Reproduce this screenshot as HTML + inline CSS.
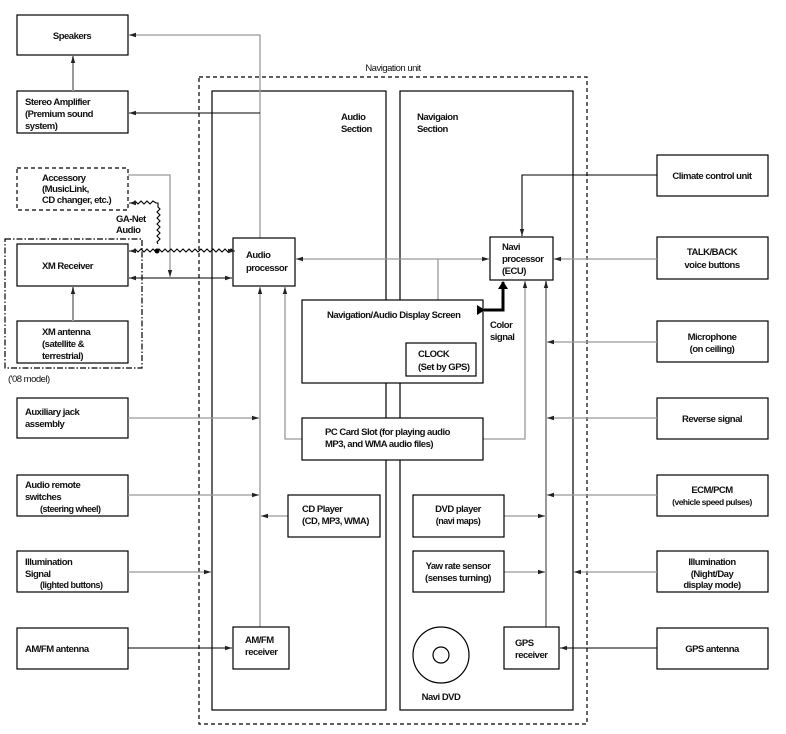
<!DOCTYPE html>
<html><head><meta charset="utf-8"><style>
html,body{margin:0;padding:0;background:#fff;width:786px;height:734px;overflow:hidden}
svg text{font-family:"Liberation Sans",sans-serif;font-size:9.5px;fill:#111;font-weight:bold;letter-spacing:-0.5px}
</style></head><body>
<svg width="786" height="734" xmlns="http://www.w3.org/2000/svg">
<defs>
<marker id="a" markerWidth="8" markerHeight="6" refX="7" refY="3" orient="auto" markerUnits="userSpaceOnUse"><path d="M0,0.8 L7,3 L0,5.2z" fill="#222"/></marker>
<marker id="s" markerWidth="8" markerHeight="6" refX="1" refY="3" orient="auto" markerUnits="userSpaceOnUse"><path d="M8,0.8 L1,3 L8,5.2z" fill="#222"/></marker>
<marker id="t" markerWidth="10" markerHeight="10" refX="7" refY="5" orient="auto" markerUnits="userSpaceOnUse"><path d="M0,0 L8,5 L0,10z" fill="#000"/></marker>
</defs>
<g fill="none" stroke="#000" stroke-width="1.2">
<rect x="199" y="77" width="388" height="647" stroke-dasharray="4,3"/>
<rect x="212" y="91" width="174" height="619"/>
<rect x="400" y="91" width="173" height="619"/>
<rect x="17" y="15" width="111" height="40"/>
<rect x="17" y="91" width="111" height="42"/>
<rect x="17" y="168" width="111" height="42" stroke-dasharray="4,3"/>
<rect x="5" y="239" width="137" height="129" stroke-dasharray="6,2,1.5,2"/>
<rect x="17" y="244" width="111" height="42"/>
<rect x="17" y="321" width="111" height="42"/>
<rect x="17" y="398" width="111" height="40"/>
<rect x="17" y="475" width="111" height="41"/>
<rect x="17" y="551" width="111" height="41"/>
<rect x="17" y="628" width="111" height="41"/>
<rect x="657" y="155" width="111" height="41"/>
<rect x="657" y="237" width="111" height="42"/>
<rect x="657" y="321" width="111" height="41"/>
<rect x="657" y="398" width="111" height="41"/>
<rect x="657" y="475" width="111" height="41"/>
<rect x="657" y="551" width="111" height="41"/>
<rect x="657" y="628" width="111" height="41"/>
</g>
<g fill="none" stroke="#999" stroke-width="1.3">
<polyline points="260,238 260,35 129,35" marker-end="url(#a)"/>
<line x1="73" y1="91" x2="73" y2="56" stroke-width="2" marker-end="url(#a)"/>
<line x1="73" y1="321" x2="73" y2="287" stroke-width="2" marker-end="url(#a)"/>
<polyline points="128,175 170,175 170,277" marker-end="url(#a)"/>
<line x1="296" y1="259" x2="489" y2="259" marker-start="url(#s)" marker-end="url(#a)"/>
<line x1="438" y1="259" x2="438" y2="300"/>
<line x1="260" y1="627" x2="260" y2="287" marker-end="url(#a)"/>
<polyline points="302,439 285,439 285,287" marker-end="url(#a)"/>
<polyline points="483,439 525,439 525,281" marker-end="url(#a)"/>
<line x1="546" y1="627" x2="546" y2="281" stroke-width="2" marker-end="url(#a)"/>
<line x1="657" y1="259" x2="554" y2="259" marker-end="url(#a)"/>
<line x1="657" y1="342" x2="547" y2="342" marker-end="url(#a)"/>
<line x1="657" y1="418" x2="547" y2="418" marker-end="url(#a)"/>
<line x1="657" y1="495" x2="547" y2="495" marker-end="url(#a)"/>
<line x1="657" y1="572" x2="574" y2="572" marker-end="url(#a)"/>
<line x1="504" y1="516" x2="545" y2="516" marker-end="url(#a)"/>
<line x1="504" y1="572" x2="545" y2="572" marker-end="url(#a)"/>
<line x1="128" y1="418" x2="259" y2="418" marker-end="url(#a)"/>
<line x1="128" y1="495" x2="259" y2="495" marker-end="url(#a)"/>
<line x1="288" y1="516" x2="261" y2="516" marker-end="url(#a)"/>
<line x1="128" y1="572" x2="211" y2="572" marker-end="url(#a)"/>
</g>
<g fill="#fff" stroke="#000" stroke-width="1.2">
<rect x="233" y="238" width="62" height="48"/>
<rect x="490" y="237" width="63" height="43"/>
<rect x="302" y="300" width="181" height="83"/>
<rect x="406" y="343" width="70" height="33"/>
<rect x="302" y="418" width="181" height="42"/>
<rect x="288" y="495" width="92" height="42"/>
<rect x="233" y="627" width="56" height="42"/>
<rect x="413" y="495" width="91" height="42"/>
<rect x="413" y="551" width="91" height="41"/>
<rect x="504" y="627" width="55" height="42"/>
<circle cx="441" cy="655" r="28"/>
<circle cx="441" cy="655" r="8"/>
</g>
<g fill="none" stroke="#000" stroke-width="1.1">
<line x1="260" y1="113" x2="129" y2="113" marker-end="url(#a)"/>
<line x1="129" y1="278" x2="232" y2="278" marker-start="url(#s)" marker-end="url(#a)"/>
<polyline points="657,175 522,175 522,236" marker-end="url(#a)"/>
<line x1="657" y1="648" x2="560" y2="648" marker-end="url(#a)"/>
<line x1="128" y1="648" x2="232" y2="648" marker-end="url(#a)"/>
<path d="M129,203 l4,0 l2,-2 l3,3 l3,-3 l3,3 l3,-3 l3,3 l3,-3 l3,2 l2,0 l0,4 l2,2 l-3,3 l3,3 l-3,3 l3,3 l-3,3 l3,3 l-3,3 l3,3 l-3,3 l3,3 l-3,3 l1,2" marker-start="url(#s)"/>
<path d="M129,251 l4,0 l2,-2 l3,3 l3,-3 l3,3 l3,-3 l3,3 l3,-3 l3,3 l3,-3 l3,3 l3,-3 l3,3 l3,-3 l3,3 l3,-3 l3,3 l3,-3 l3,3 l3,-3 l3,3 l3,-3 l3,3 l3,-3 l3,3 l3,-3 l3,3 l3,-3 l3,3 l3,-3 l3,3 l3,-3 l3,3 l3,-3 l2,2 l2,0" marker-start="url(#s)" marker-end="url(#a)"/>
<polyline points="484,310 503,310 503,282" stroke-width="3" marker-start="url(#t)" marker-end="url(#t)"/>
</g>
<circle cx="157" cy="251" r="2.5" fill="#000"/>
<text x="72" y="39" text-anchor="middle">Speakers</text>
<text x="25" y="105">Stereo Amplifier</text><text x="25" y="117">(Premium sound</text><text x="25" y="129">system)</text>
<text x="42" y="181">Accessory</text><text x="42" y="192">(MusicLink,</text><text x="42" y="203">CD changer, etc.)</text>
<text x="116" y="222">GA-Net</text><text x="116" y="233">Audio</text>
<text x="42" y="269">XM Receiver</text>
<text x="42" y="335">XM antenna</text><text x="42" y="347">(satellite &amp;</text><text x="42" y="359">terrestrial)</text>
<text x="8" y="382" style="font-weight:normal">('08 model)</text>
<text x="25" y="415">Auxiliary jack</text><text x="25" y="427">assembly</text>
<text x="25" y="488">Audio remote</text><text x="25" y="500">switches</text><text x="40" y="512" style="font-size:9px">(steering wheel)</text>
<text x="25" y="565">Illumination</text><text x="25" y="577">Signal</text><text x="40" y="588" style="font-size:9px">(lighted buttons)</text>
<text x="25" y="652">AM/FM antenna</text>
<text x="393" y="71" text-anchor="middle" style="font-weight:normal">Navigation unit</text>
<text x="341" y="120">Audio</text><text x="341" y="132">Section</text>
<text x="417" y="120">Navigaion</text><text x="417" y="132">Section</text>
<text x="246" y="258">Audio</text><text x="246" y="271">processor</text>
<text x="502" y="250">Navi</text><text x="502" y="262">processor</text><text x="502" y="274">(ECU)</text>
<text x="327" y="318">Navigation/Audio Display Screen</text>
<text x="418" y="357">CLOCK</text><text x="418" y="370">(Set by GPS)</text>
<text x="490" y="328">Color</text><text x="490" y="340">signal</text>
<text x="325" y="435">PC Card Slot (for playing audio</text><text x="325" y="447">MP3, and WMA audio files)</text>
<text x="302" y="512">CD Player</text><text x="302" y="524">(CD, MP3, WMA)</text>
<text x="245" y="643">AM/FM</text><text x="245" y="655">receiver</text>
<text x="458" y="512" text-anchor="middle">DVD player</text><text x="458" y="524" text-anchor="middle" style="font-size:9px">(navi maps)</text>
<text x="458" y="569" text-anchor="middle">Yaw rate sensor</text><text x="458" y="581" text-anchor="middle">(senses turning)</text>
<text x="515" y="646">GPS</text><text x="515" y="658">receiver</text>
<text x="441" y="700" text-anchor="middle">Navi DVD</text>
<text x="712" y="179" text-anchor="middle">Climate control unit</text>
<text x="712" y="255" text-anchor="middle">TALK/BACK</text><text x="712" y="268" text-anchor="middle">voice buttons</text>
<text x="712" y="340" text-anchor="middle">Microphone</text><text x="712" y="352" text-anchor="middle">(on ceiling)</text>
<text x="712" y="422" text-anchor="middle">Reverse signal</text>
<text x="712" y="493" text-anchor="middle">ECM/PCM</text><text x="712" y="505" text-anchor="middle" style="font-size:8.5px">(vehicle speed pulses)</text>
<text x="712" y="565" text-anchor="middle">Illumination</text><text x="712" y="577" text-anchor="middle">(Night/Day</text><text x="712" y="588" text-anchor="middle">display mode)</text>
<text x="712" y="652" text-anchor="middle">GPS antenna</text>
</svg>
</body></html>
